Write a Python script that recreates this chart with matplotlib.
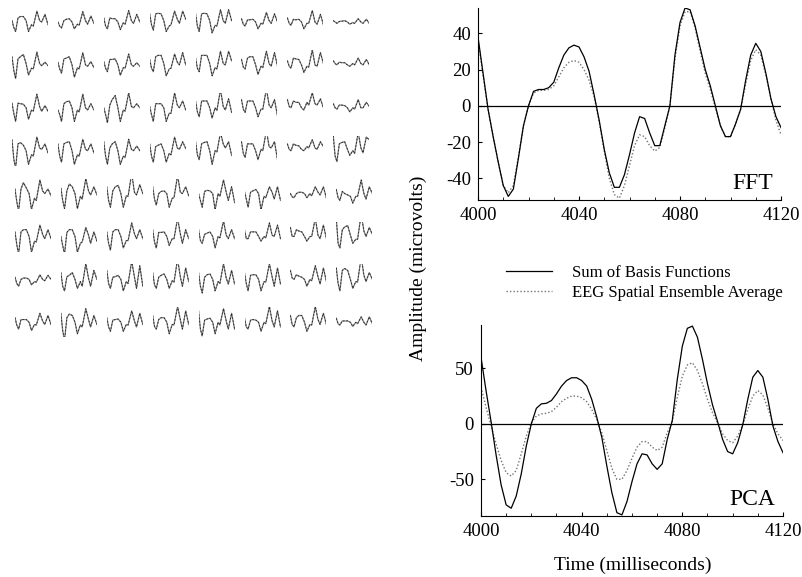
import numpy as np
import matplotlib
matplotlib.use('Agg')
import matplotlib.pyplot as plt
from matplotlib.ticker import MultipleLocator

plt.rcParams['font.family'] = ['Liberation Serif', 'DejaVu Serif']
plt.rcParams['axes.unicode_minus'] = False

# time base of the two big panels (ms)
time_ms = list(range(4000, 4121, 2))

fft_sum = [38, 18, -2, -17, -31, -44, -50, -46, -29, -11, 0, 8, 9, 9, 10, 13, 21, 28, 32, 33.5,
           32.5, 27, 19, 6, -8, -24, -37, -45, -45, -38, -27, -15, -6, -7, -15, -22, -22, -11, 0, 28,
           46, 54, 53, 44, 32, 20, 11, 0, -11, -17, -17, -10, -2, 14, 28, 34.5, 30, 18, 4, -6, -12]
fft_eeg = [36, 17, -2, -17, -31, -44, -48, -44, -28, -11, 0, 7, 8.5, 8.5, 9, 11, 16, 21, 24, 25,
           24, 20, 14, 5, -9, -25, -40, -49, -51, -44, -33, -22, -16, -17, -22, -25, -23, -12, 0, 26,
           44, 52, 52, 43, 30, 18, 9, -1, -11, -17, -17, -10, -2, 12, 25, 31, 28, 17, 4, -8, -16]
pca_sum = [60, 30, 2, -28, -55, -73, -76, -65, -45, -20, 0, 14, 18, 18.5, 21, 27, 34, 39, 41.5, 41.5,
           39, 34, 22, 6, -12, -38, -62, -80, -82, -70, -52, -36, -27, -28, -36, -41, -36, -14, 3, 40,
           70, 86, 88, 78, 58, 36, 17, 2, -14, -25, -27, -17, -1, 22, 42, 48, 42, 22, -2, -16, -26]
pca_eeg = [33, 15, -2, -18, -33, -44, -47, -42, -27, -11, 1, 7, 9, 9.5, 11, 15, 20, 23, 25, 25,
           23.5, 20, 13, 4, -8, -24, -40, -50, -50, -42, -31, -21, -16, -16, -21, -24, -21, -8, 2, 24,
           43, 53, 55, 48, 36, 22, 10, 1, -9, -15, -17, -11, -1, 13, 25, 30, 26, 14, 0, -9, -15]

# 8 x 8 grid of channel traces (microvolts at these times)
trace_t = [4000, 4006, 4012, 4020, 4028, 4038, 4047, 4055, 4065, 4071, 4083, 4092, 4099, 4110, 4120]
row1 = [[5, -20, -35, 15, 20, 20, 5, -35, -10, -15, 40, 5, 0, 28, -10],
        [0, -15, -22, 5, 10, 12, 0, -25, -8, -12, 38, 5, -8, 22, -5],
        [15, -15, -25, 15, 12, 12, 0, -28, -3, -8, 42, 5, -5, 28, 0],
        [30, -10, -30, 30, 32, 30, 5, -35, -15, -10, 40, 10, -5, 40, 10],
        [30, -15, -35, 30, 32, 30, 5, -40, -12, -15, 45, 5, -5, 45, 5],
        [12, -8, -15, 8, 8, 10, 0, -25, -5, -8, 35, 5, -5, 30, 0],
        [15, -5, -12, 10, 8, 10, 0, -25, -5, -5, 42, 0, -8, 28, -10],
        [5, 0, -5, 2, 3, 5, 0, -8, -2, -5, 12, 0, -5, 10, -5]]
row2 = [[30, -20, -50, 22, 30, 38, 5, -37, -12, -15, 47, 5, -3, 10, -3],
        [10, -15, -30, 22, 25, 30, 0, -45, -10, -15, 45, 0, -5, 12, -10],
        [12, -12, -25, 20, 20, 22, 0, -38, -10, -12, 40, 0, -5, 8, -5],
        [20, -12, -25, 30, 35, 35, 5, -40, -15, -12, 40, 10, 0, 45, 0],
        [25, -12, -25, 35, 35, 35, 5, -40, -10, -15, 50, 5, 0, 50, 15],
        [20, -8, -15, 25, 30, 30, 0, -35, -5, -10, 50, 5, -5, 45, -5],
        [15, -5, -12, 25, 22, 20, 0, -28, -5, -8, 55, 0, -5, 45, 5],
        [15, 5, 0, 10, 8, 8, 0, -5, 5, 0, 25, 5, 0, 20, 0]]
row3 = [[17, -20, -50, 17, 15, 13, 0, -42, -8, -12, 50, 5, -13, 8, -13],
        [-8, -25, -50, 15, 22, 25, 0, -50, -8, -15, 50, 0, -8, 15, -8],
        [0, -25, -55, 10, 30, 45, 0, -50, -8, -12, 55, 5, 0, 15, 0],
        [5, -25, -50, 15, 15, 15, 0, -50, -20, -20, 55, 10, 0, 25, -8],
        [25, -15, -33, 25, 25, 25, 0, -38, 0, -10, 67, 5, -8, 33, -17],
        [30, -5, -17, 25, 25, 25, 0, -33, -5, -5, 70, 10, 0, 30, -30],
        [30, 5, 0, 25, 20, 20, 0, -8, 20, 10, 55, 15, 10, 33, 0],
        [15, 0, -5, 10, 10, 8, 0, -15, 0, -5, 30, 0, 0, 20, 5]]
row4 = [[40, -30, -65, 25, 30, 20, 0, -50, -15, -20, 50, 10, 5, 25, -8],
        [25, -20, -42, 25, 30, 33, 0, -50, -15, -20, 42, 5, 0, 25, -8],
        [33, -20, -50, 10, 25, 33, 0, -50, -20, -25, 42, 5, 0, 17, 0],
        [25, -20, -42, 15, 20, 25, 0, -42, -10, -15, 50, 10, 5, 33, 8],
        [33, -15, -33, 25, 30, 33, 0, -50, 0, -5, 67, 25, 10, 33, -17],
        [33, -10, -25, 25, 25, 25, 0, -33, 5, 0, 75, 15, 10, 33, -33],
        [25, 5, 0, 25, 20, 18, 5, 0, 15, 10, 40, 10, 5, 33, 15],
        [55, -20, -40, 25, 30, 33, 5, -17, 0, -10, 67, 10, -8, 50, 40]]
row5 = [[17, -30, -65, 17, 40, 20, 0, -58, -17, -25, 50, 10, 0, 17, -8],
        [20, -25, -55, 10, 35, 25, 0, -55, -10, -20, 55, 10, -5, 25, -5],
        [25, -25, -50, 10, 25, 30, 0, -50, -8, -10, 75, 5, -5, 33, 0],
        [25, -20, -42, 0, 8, 10, 0, -50, -17, -15, 67, 5, 0, 25, -8],
        [0, -25, -50, 8, 12, 10, 0, -60, 0, -10, 50, 5, -25, 25, -33],
        [8, -20, -50, 5, 10, 15, 0, -60, -10, -15, 25, 5, -20, 25, -25],
        [0, -12, -15, 0, 5, 5, 0, -15, 0, -8, 25, 5, -5, 25, -17],
        [15, -15, -25, 8, 0, -5, -10, -35, -10, -10, 50, 0, -20, 25, 0]]
row6 = [[17, -30, -65, 17, 25, 25, 0, -58, -17, -20, 42, 8, -8, 25, -8],
        [0, -33, -65, 15, 25, 25, 0, -58, -25, -20, 33, 5, -25, 17, -17],
        [17, -25, -50, 17, 25, 25, 0, -42, -15, -15, 50, 10, -8, 25, -8],
        [25, -20, -42, 15, 15, 17, 0, -33, -8, -8, 67, 10, -25, 25, -8],
        [25, -15, -25, 8, 12, 17, 0, -42, 0, -5, 58, 5, -8, 25, -8],
        [25, -8, -8, 17, 17, 17, 0, -17, 0, -5, 50, 5, 0, 42, -8],
        [33, 0, 0, 25, 20, 17, 0, -17, 0, 0, 67, 5, -8, 42, -8],
        [67, -25, -42, 25, 35, 40, 5, -25, -10, -10, 83, 20, 0, 33, 8]]
row7 = [[8, -15, -25, 0, 5, 5, 0, -20, -8, -10, 17, 0, -5, 15, 0],
        [25, -25, -42, 10, 15, 25, 0, -33, -8, -25, 58, 5, -25, 33, 0],
        [33, -15, -33, 8, 10, 15, 0, -42, -8, -15, 67, 10, -33, 50, -25],
        [25, -20, -33, 8, 15, 20, 0, -33, -5, -10, 75, 10, -25, 42, -8],
        [25, -25, -50, 8, 17, 20, 0, -42, -8, -15, 58, 5, -17, 33, -17],
        [25, -15, -42, 15, 17, 17, 0, -42, -8, -10, 58, 10, -25, 42, -17],
        [33, 5, 0, 17, 12, 8, 0, -25, 0, -5, 50, 10, -17, 42, -8],
        [42, -15, -42, 33, 40, 33, 0, -33, -8, -10, 83, 15, -8, 25, 0]]
row8 = [[17, -10, -25, 10, 10, 10, 0, -30, -8, -10, 33, 5, -8, 25, -8],
        [33, -30, -67, 17, 30, 25, 0, -42, -10, -17, 50, 10, -17, 25, -8],
        [17, -17, -33, 8, 10, 12, 0, -33, -8, -10, 42, 5, -17, 33, -8],
        [25, -15, -25, 10, 17, 17, 0, -42, -8, -10, 58, 10, -25, 42, -8],
        [42, -25, -50, 8, 12, 15, 0, -42, 0, -10, 50, 5, -25, 33, -25],
        [17, -17, -25, 8, 10, 8, 0, -33, 0, -5, 58, 5, -17, 42, -17],
        [25, -8, -17, 17, 25, 25, 0, -33, -8, -10, 58, 10, -8, 33, -8],
        [15, -5, -10, 5, 5, 5, 0, -15, 0, -5, 20, 0, -10, 20, -5]]
channel_rows = [row1, row2, row3, row4, row5, row6, row7, row8]

W, H = 802, 577
fig = plt.figure(figsize=(W / 100, H / 100), dpi=100)


def px_axes(x0, y0, x1, y1):
    return fig.add_axes([x0 / W, 1 - y1 / H, (x1 - x0) / W, (y1 - y0) / H])


# small channel traces
for i, row in enumerate(channel_rows):
    yc = 22 + i * 42.9
    for j, vals in enumerate(row):
        x0 = 12 + j * 45.9 + (3 if i >= 4 else 0)
        ax = px_axes(x0, yc - 15, x0 + 36, yc + 15)
        ax.plot(trace_t, vals, color='0.5', lw=0.9)
        ax.plot(trace_t, vals, color='0.15', lw=0.6, ls=(0, (2, 2)))
        ax.set_xlim(4000, 4120)
        ax.set_ylim(-55, 55)
        ax.axis('off')


def panel(ax, sum_vals, eeg_vals, yticks, ylim, name):
    l_eeg, = ax.plot(time_ms, eeg_vals, color='0.45', lw=1.0, ls=(0, (1, 1.5)))
    l_sum, = ax.plot(time_ms, sum_vals, color='black', lw=0.9)
    ax.axhline(0, color='black', lw=0.9)
    ax.set_xlim(4000, 4120)
    ax.set_ylim(*ylim)
    ax.set_xticks([4000, 4040, 4080, 4120])
    ax.set_yticks(yticks)
    ax.xaxis.set_minor_locator(MultipleLocator(10))
    ax.spines['top'].set_visible(False)
    ax.spines['right'].set_visible(False)
    ax.tick_params(direction='in', length=3, labelsize=13.5, pad=5)
    ax.tick_params(which='minor', direction='in', length=2)
    ax.text(0.975, 0.03, name, transform=ax.transAxes, ha='right', va='bottom', fontsize=17)
    return l_sum, l_eeg


ax_fft = px_axes(478, 8, 781, 200)
panel(ax_fft, fft_sum, fft_eeg, [-40, -20, 0, 20, 40], (-52, 54), 'FFT')

ax_pca = px_axes(481, 325, 783, 516)
l_sum, l_eeg = panel(ax_pca, pca_sum, pca_eeg, [-50, 0, 50], (-83, 89), 'PCA')

fig.legend([l_sum, l_eeg], ['Sum of Basis Functions', 'EEG Spatial Ensemble Average'],
           loc='center left', bbox_to_anchor=(506 / W, 1 - 283 / H), frameon=False,
           borderpad=0, borderaxespad=0, handlelength=2.75, handletextpad=1.2,
           labelspacing=0.25, fontsize=12)

fig.text(418 / W, 1 - 268 / H, 'Amplitude (microvolts)', rotation=90,
         ha='center', va='center', fontsize=14)
fig.text(633 / W, 1 - 565 / H, 'Time (milliseconds)', ha='center', va='center', fontsize=14)

fig.savefig('out.png', dpi=100)
